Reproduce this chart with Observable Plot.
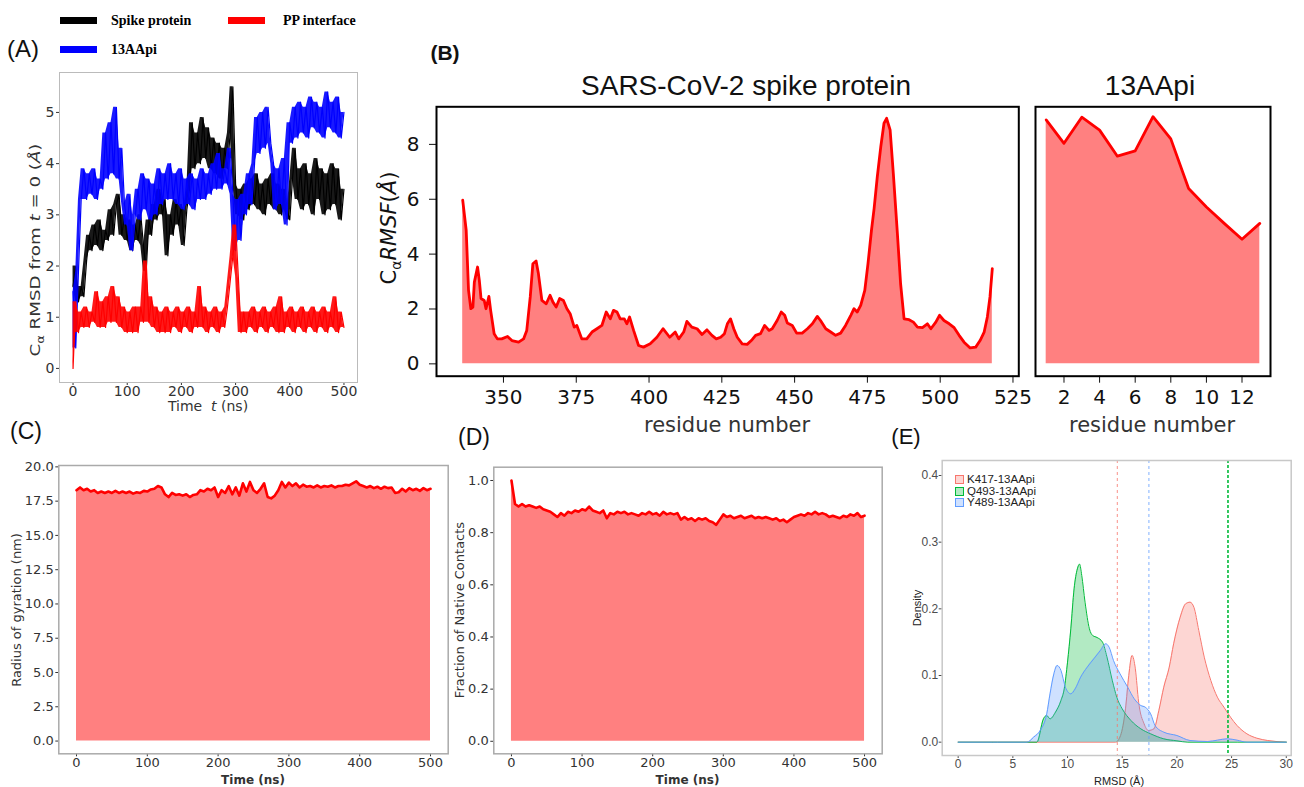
<!DOCTYPE html>
<html><head><meta charset="utf-8">
<script src="https://cdn.jsdelivr.net/npm/d3@7"></script>
<script src="https://cdn.jsdelivr.net/npm/@observablehq/plot@0.6"></script>
<style>
body{margin:0;background:#fff;overflow:hidden}
#root{position:relative;width:1304px;height:787px;background:#fff;overflow:hidden}
#root svg{position:absolute;left:0;top:0;background:transparent;overflow:visible}
.lbl{position:absolute;white-space:nowrap;transform:translate(-50%,-50%);line-height:1}
.lft{position:absolute;white-space:nowrap;transform:translate(0,-50%);line-height:1}
.bar{position:absolute}
</style></head><body><div id="root"></div><script>
// ---------------- DATA ----------------
// Panel A: RMSD (Å) sampled every 5 ns
const timeNs = d3.range(0, 501, 5);
const rmsdSpike = [
1.6,2.0,1.3,1.6,1.4,2.1,2.6,2.3,2.8,2.4,
2.9,2.3,2.7,2.5,3.1,2.6,3.2,3.4,2.6,3.0,
2.5,2.9,2.3,2.8,2.5,3.0,2.4,1.9,2.9,2.6,
3.2,2.9,3.5,3.0,3.3,2.2,3.0,2.6,3.3,2.8,
3.2,2.4,3.1,3.5,4.8,3.9,4.6,4.0,4.9,4.1,
4.7,3.9,4.5,3.8,4.4,3.7,4.3,3.9,4.6,5.5,
3.6,3.0,3.5,2.9,3.6,3.1,3.7,3.2,3.8,3.1,
3.6,3.0,3.7,3.2,3.8,3.1,3.6,3.0,3.5,3.1,
2.9,3.7,4.3,3.3,3.9,3.1,4.0,3.2,3.8,3.0,
4.1,3.3,3.9,3.0,3.8,3.1,4.0,3.2,3.9,2.9,
3.5];
const rmsdPeptide = [
1.5,0.4,1.9,3.3,3.9,3.3,3.8,3.4,3.9,3.3,
3.7,3.5,4.6,3.7,4.8,3.8,5.1,3.7,4.3,3.2,
2.8,3.4,2.3,3.0,3.5,2.9,3.8,3.1,3.7,2.9,
3.6,3.0,3.9,3.2,3.8,3.3,4.0,3.3,3.8,3.2,
3.9,3.1,3.7,3.2,3.8,3.1,3.7,3.3,3.9,3.3,
3.8,3.4,4.0,3.5,4.2,3.5,3.9,3.6,4.3,3.4,
2.3,3.3,2.5,3.4,3.0,3.8,3.2,4.0,4.9,4.2,
5.0,4.3,5.1,4.4,4.0,3.1,3.9,3.2,4.1,2.8,
4.8,4.4,5.1,4.5,5.2,4.6,5.1,4.5,5.3,4.7,
5.2,4.6,5.1,4.5,5.4,4.7,5.2,4.6,5.3,4.5,
5.0];
const rmsdInterface = [
0.0,1.3,0.7,1.1,0.8,1.2,0.8,1.1,0.9,1.5,
0.8,1.3,0.8,1.4,0.9,1.6,0.9,1.4,0.8,1.2,
0.7,1.1,0.7,1.2,0.7,1.2,0.9,2.1,0.9,1.4,
0.8,1.2,0.7,1.1,0.7,1.2,0.7,1.1,0.8,1.2,
0.7,1.1,0.8,1.2,0.7,1.1,0.8,1.6,0.8,1.2,
0.7,1.1,0.8,1.2,0.7,1.1,0.8,1.2,1.7,2.2,
2.8,1.8,0.7,1.1,0.7,1.1,0.8,1.2,0.7,1.1,
0.8,1.2,0.7,1.1,0.8,1.2,0.7,1.4,0.7,1.1,
0.8,1.2,0.7,1.1,0.8,1.2,0.7,1.1,0.8,1.2,
0.7,1.1,0.8,1.2,0.7,1.1,0.8,1.4,0.7,1.1,
0.8];
const seriesA = ["Spike protein", "13AApi", "PP interface"];
const colorsA = ["#000000", "#0000ff", "#ff0000"];

// Panel B: RMSF per residue
const residueSpike = [336.0,337.2,338.0,338.8,339.5,340.0,341.1,341.7,342.3,343.4,344.0,345.0,345.6,346.8,347.9,349.4,351.4,352.9,355.2,356.9,358.0,359.2,360.1,361.2,362.0,363.2,364.7,366.0,367.0,368.1,369.3,370.6,371.8,372.9,374.3,375.2,376.9,378.6,380.4,382.1,383.8,385.3,386.7,387.8,389.0,390.1,391.5,392.4,393.3,394.7,396.4,398.1,400.4,402.7,404.8,407.1,409.0,410.2,411.9,413.0,414.7,416.5,418.2,419.9,421.6,423.1,424.6,425.9,426.9,428.0,429.1,430.3,432.0,433.7,435.4,436.6,438.3,439.7,441.2,442.3,444.0,445.4,446.6,447.5,449.2,450.7,452.6,454.4,456.1,457.8,458.9,460.7,462.4,464.1,465.8,467.5,469.3,470.4,471.5,472.7,474.1,475.2,476.4,477.3,478.4,479.6,480.7,481.6,482.8,483.9,485.3,486.4,487.6,489.3,490.8,492.2,493.9,495.6,496.8,498.5,499.8,501.3,503.1,504.8,506.5,508.2,510.3,512.2,513.7,515.1,516.2,517.1,517.9];
const rmsfSpike = [5.97,4.87,2.68,2.01,2.07,2.98,3.53,3.05,2.38,2.31,2.01,2.46,1.95,1.10,0.91,0.91,1.00,0.85,0.79,0.91,1.22,2.44,3.65,3.75,3.29,2.31,2.19,2.50,2.25,2.07,2.38,2.31,2.01,1.83,1.34,1.40,0.91,0.91,1.16,1.28,1.40,1.89,1.64,1.95,1.89,1.64,1.64,1.46,1.71,1.22,0.67,0.61,0.73,0.97,1.28,0.97,1.16,0.91,1.16,1.55,1.34,1.28,1.07,1.24,1.04,0.91,0.97,1.10,1.46,1.64,1.28,0.97,0.73,0.71,0.88,1.04,1.10,1.40,1.22,1.28,1.58,1.89,1.77,1.49,1.40,1.12,1.12,1.28,1.46,1.73,1.58,1.28,1.16,1.04,1.12,1.40,1.77,2.01,1.89,2.13,2.68,3.65,4.87,5.66,6.82,7.92,8.77,8.95,8.53,6.94,4.75,2.92,1.64,1.61,1.52,1.34,1.32,1.46,1.28,1.52,1.77,1.58,1.46,1.32,1.04,0.79,0.58,0.61,0.85,1.16,1.71,2.44,3.47];
const residuePeptide = [1,2,3,4,5,6,7,8,9,10,11,12,13];
const rmsfPeptide = [8.89,8.04,8.99,8.52,7.57,7.76,9.01,8.2,6.39,5.72,5.12,4.54,5.12];

// Panel C: radius of gyration (nm), every 5 ns
const rgyr = [
18.3,18.5,18.3,18.4,18.2,18.3,18.1,18.2,18.1,18.2,
18.1,18.25,18.1,18.2,18.1,18.2,18.05,18.15,18.1,18.25,
18.2,18.35,18.4,18.6,18.5,18.0,17.8,18.1,17.95,18.0,
17.9,18.0,17.8,17.95,18.0,18.3,18.2,18.4,18.3,18.5,
17.8,18.3,18.1,18.6,18.0,18.5,17.9,18.8,18.2,18.9,
18.3,18.1,18.4,18.8,17.8,17.7,17.9,18.3,18.9,18.5,
18.85,18.6,18.8,18.5,18.7,18.55,18.6,18.5,18.65,18.5,
18.6,18.55,18.65,18.5,18.6,18.6,18.7,18.65,18.8,18.95,
18.7,18.6,18.5,18.6,18.45,18.55,18.4,18.55,18.45,18.5,
18.1,18.15,18.4,18.2,18.45,18.3,18.4,18.25,18.45,18.3,
18.4];
// Panel D: fraction of native contacts, every 5 ns
const nativeContacts = [
1.00,0.91,0.90,0.91,0.90,0.905,0.90,0.895,0.90,0.89,
0.885,0.88,0.87,0.86,0.875,0.865,0.88,0.875,0.885,0.88,
0.89,0.885,0.90,0.885,0.88,0.875,0.885,0.855,0.875,0.87,
0.88,0.875,0.88,0.87,0.875,0.87,0.865,0.875,0.87,0.88,
0.87,0.875,0.865,0.88,0.87,0.875,0.87,0.875,0.85,0.86,
0.85,0.855,0.845,0.855,0.85,0.855,0.845,0.84,0.83,0.85,
0.87,0.86,0.865,0.855,0.86,0.865,0.855,0.86,0.865,0.855,
0.86,0.855,0.86,0.855,0.85,0.855,0.845,0.85,0.84,0.85,
0.86,0.865,0.87,0.865,0.875,0.87,0.88,0.87,0.875,0.87,
0.86,0.865,0.86,0.855,0.865,0.86,0.87,0.865,0.875,0.86,
0.865];

// Panel E: RMSD density
const k417X = [0,14.4,14.85,15.3,15.6,15.9,16.2,16.5,17.0,17.4,17.9,18.35,18.8,19.3,19.7,20.3,20.8,21.2,21.55,22.0,22.5,23.1,23.7,24.3,24.9,25.5,26.4,27.3,28.3,30];
const k417Y = [0,0,0.01,0.05,0.1,0.13,0.11,0.06,0.0275,0.0175,0.02,0.0475,0.0825,0.1125,0.1475,0.1875,0.2075,0.21,0.2025,0.1675,0.1275,0.0925,0.0675,0.0525,0.0375,0.025,0.0125,0.006,0.0025,0];
const q493X = [0,7.2,7.8,8.1,8.4,8.9,9.4,9.7,10.0,10.3,10.6,10.9,11.1,11.3,11.6,12.0,12.3,12.7,13.2,13.6,14.1,14.5,15.0,15.8,16.7,17.6,18.8,20.0,21.0,30];
const q493Y = [0,0,0.035,0.04,0.035,0.045,0.0625,0.08,0.12,0.17,0.23,0.26,0.267,0.25,0.21,0.17,0.16,0.157,0.15,0.128,0.092,0.0675,0.05,0.0325,0.02,0.0125,0.005,0.002,0,0];
const y489X = [0,6.3,6.9,7.5,8.1,8.4,8.75,9.05,9.4,9.8,10.3,10.7,11.2,11.8,12.4,13.0,13.5,13.8,14.2,14.8,15.5,16.1,16.7,17.1,17.6,18.0,18.8,20.0,21.2,22.8,23.7,24.6,25.5,26.4,30];
const y489Y = [0,0,0.0075,0.0175,0.0425,0.0725,0.1025,0.115,0.1075,0.0825,0.0725,0.08,0.0975,0.1125,0.125,0.1375,0.1475,0.1425,0.1225,0.1025,0.0825,0.065,0.055,0.0525,0.0425,0.025,0.015,0.01,0.0025,0.001,0.003,0.005,0.003,0,0];
const seriesE = ["K417-13AApi", "Q493-13AApi", "Y489-13AApi"];
const colorsE = ["#F8766D", "#00BA38", "#619CFF"];
const meanLinesE = [14.55, 24.67, 17.44];

// ---------------- DRAW ----------------
const W = 1304, H = 787;
const root = document.getElementById("root");
function panel(f, opts) {
  const svg = Plot.plot(Object.assign({
    width: W, height: H,
    marginLeft: f.l, marginRight: W - f.r, marginTop: f.t, marginBottom: H - f.b
  }, opts));
  root.appendChild(svg);
}
function label(html, x, y, css, rot, cls) {
  const d = document.createElement("div");
  d.className = cls || "lbl";
  d.innerHTML = html;
  d.style.left = x + "px"; d.style.top = y + "px";
  if (css) d.style.cssText += css;
  if (rot) d.style.transform = "translate(-50%,-50%) rotate(-90deg)" + (rot === true ? "" : " " + rot);
  root.appendChild(d);
}
function bar(x, y, w, h, c) {
  const d = document.createElement("div");
  d.className = "bar";
  d.style.cssText = `left:${x}px;top:${y}px;width:${w}px;height:${h}px;background:${c}`;
  root.appendChild(d);
}

// Panel A
const toSeries = arr => timeNs.map((t, i) => ({t, v: arr[i]}));
// local envelope of each noisy trace (min/max of neighbouring samples)
const envelope = arr => timeNs.map((t, i) => {
  const w = arr.slice(i, Math.min(arr.length, i + 2));
  return {t, lo: d3.min(w), hi: d3.max(w)};
});
const arrsA = [rmsdSpike, rmsdPeptide, rmsdInterface];
const marksA = [];
arrsA.forEach((a, i) => {
  marksA.push(Plot.areaY(envelope(a), {x: "t", y1: "lo", y2: "hi", fill: colorsA[i], fillOpacity: 0.9}));
  marksA.push(Plot.lineY(toSeries(a), {x: "t", y: "v", stroke: colorsA[i], strokeWidth: 1.2}));
});
marksA.push(Plot.frame({stroke: "#bbb"}));
panel({l: 59, r: 357, t: 72, b: 382}, {
  style: {fontFamily: "DejaVu Sans", fontSize: "14px", color: "#333", background: "transparent"},
  x: {domain: [-25, 525], ticks: [0, 100, 200, 300, 400, 500], tickSize: 3, tickPadding: 1, label: null},
  y: {domain: [-0.275, 5.78], ticks: [0, 1, 2, 3, 4, 5], tickFormat: d => String(d), tickSize: 3, tickPadding: 2, label: null},
  marks: marksA
});
// legend A
const serif = "font-family:'Liberation Serif';font-weight:bold;font-size:14px;color:#000;";
bar(60, 17, 37, 7, colorsA[0]); label(seriesA[0], 111, 21, serif, false, "lft");
bar(228, 17, 37, 7, colorsA[2]); label(seriesA[2], 283, 21, serif, false, "lft");
bar(60, 46, 37, 7, colorsA[1]); label(seriesA[1], 111, 50, serif, false, "lft");
label("(A)", 23, 49, "font-family:'Liberation Sans';font-size:24px;color:#111;");
label("C<sub style='font-size:10px'>α</sub> RMSD from <i>t</i> = 0 (<i>Å</i>)", 37, 250,
  "font-family:'DejaVu Sans';font-size:14px;color:#333;", "scaleX(1.3)");
label("Time&nbsp; <i>t</i> (ns)", 208, 406, "font-family:'DejaVu Sans';font-size:14px;color:#333;");

// Panel B left
const bY = {domain: [-0.45, 9.37], ticks: [0, 2, 4, 6, 8], tickSize: 7, tickPadding: 10, label: null};
const spikeData = residueSpike.map((r, i) => ({r, v: rmsfSpike[i]}));
panel({l: 436, r: 1018.3, t: 106.3, b: 375.7}, {
  style: {fontFamily: "DejaVu Sans", fontSize: "20px", color: "#111", background: "transparent"},
  x: {domain: [327, 527], ticks: [350, 375, 400, 425, 450, 475, 500, 525], tickSize: 7, tickPadding: 7, label: null},
  y: bY,
  marks: [
    Plot.areaY(spikeData, {x: "r", y: "v", fill: "#ff8080"}),
    Plot.lineY(spikeData, {x: "r", y: "v", stroke: "#ff0000", strokeWidth: 2.8, strokeLinejoin: "round"}),
    Plot.frame({stroke: "#000", strokeWidth: 2})
  ]
});
// Panel B right
const pepData = residuePeptide.map((r, i) => ({r, v: rmsfPeptide[i]}));
panel({l: 1035, r: 1270, t: 106.3, b: 375.7}, {
  style: {fontFamily: "DejaVu Sans", fontSize: "20px", color: "#111", background: "transparent"},
  x: {domain: [0.4, 13.6], ticks: [2, 4, 6, 8, 10, 12], tickSize: 7, tickPadding: 7, label: null},
  y: Object.assign({}, bY, {axis: null}),
  marks: [
    Plot.areaY(pepData, {x: "r", y: "v", fill: "#ff8080"}),
    Plot.lineY(pepData, {x: "r", y: "v", stroke: "#ff0000", strokeWidth: 2.8, strokeLinejoin: "round"}),
    Plot.frame({stroke: "#000", strokeWidth: 2})
  ]
});
label("(B)", 445, 52, "font-family:'Liberation Sans';font-weight:bold;font-size:21px;color:#111;");
label("SARS-CoV-2 spike protein", 746, 86, "font-family:'Liberation Sans';font-size:28px;color:#111;");
label("13AApi", 1150, 86, "font-family:'Liberation Sans';font-size:28px;color:#111;");
label("C<sub style='font-size:14px'>α</sub><i>RMSF</i>(<i>Å</i>)", 391, 228, "font-family:'DejaVu Sans';font-size:21px;color:#111;", true);
label("residue number", 727, 425, "font-family:'DejaVu Sans';font-size:21px;color:#333;");
label("residue number", 1152, 425, "font-family:'DejaVu Sans';font-size:21px;color:#333;");

// Panel C
const mplStyle = {fontFamily: "DejaVu Sans", fontSize: "13px", color: "#333", background: "transparent"};
const timeX = {domain: [-25, 525], ticks: [0, 100, 200, 300, 400, 500], tickSize: 3, tickPadding: 1, label: null};
panel({l: 58.3, r: 447.7, t: 465, b: 753.3}, {
  style: mplStyle,
  x: timeX,
  y: {domain: [-0.93, 20.1], ticks: [0, 2.5, 5, 7.5, 10, 12.5, 15, 17.5, 20], tickFormat: d => d.toFixed(1), tickSize: 3, tickPadding: 2, label: null},
  marks: [
    Plot.areaY(toSeries(rgyr), {x: "t", y: "v", fill: "#ff8080"}),
    Plot.lineY(toSeries(rgyr), {x: "t", y: "v", stroke: "#ff0000", strokeWidth: 2.6}),
    Plot.frame({stroke: "#aaa", strokeWidth: 1.5})
  ]
});
label("(C)", 26, 431, "font-family:'Liberation Sans';font-size:23px;color:#111;");
label("Radius of gyration (nm)", 16, 610, "font-family:'DejaVu Sans';font-size:13px;color:#333;", true);
label("Time (ns)", 253, 780, "font-family:'DejaVu Sans';font-weight:bold;font-size:12px;color:#333;");

// Panel D
panel({l: 493.3, r: 881.7, t: 466.7, b: 753.3}, {
  style: mplStyle,
  x: timeX,
  y: {domain: [-0.048, 1.051], ticks: [0, 0.2, 0.4, 0.6, 0.8, 1.0], tickFormat: d => d.toFixed(1), tickSize: 3, tickPadding: 2, label: null},
  marks: [
    Plot.areaY(toSeries(nativeContacts), {x: "t", y: "v", fill: "#ff8080"}),
    Plot.lineY(toSeries(nativeContacts), {x: "t", y: "v", stroke: "#ff0000", strokeWidth: 2.6}),
    Plot.frame({stroke: "#aaa", strokeWidth: 1.5})
  ]
});
label("(D)", 474, 437, "font-family:'Liberation Sans';font-size:23px;color:#111;");
label("Fraction of Native Contacts", 459, 610, "font-family:'DejaVu Sans';font-size:13px;color:#333;", true);
label("Time (ns)", 687.5, 780, "font-family:'DejaVu Sans';font-weight:bold;font-size:12px;color:#333;");

// Panel E
const eXs = [k417X, q493X, y489X], eYs = [k417Y, q493Y, y489Y];
const eMarks = [];
eXs.forEach((xs, i) => {
  const data = xs.map((x, j) => ({x, y: eYs[i][j]}));
  eMarks.push(Plot.areaY(data, {x: "x", y: "y", fill: colorsE[i], fillOpacity: 0.3, curve: "monotone-x"}));
  eMarks.push(Plot.lineY(data, {x: "x", y: "y", stroke: colorsE[i], strokeWidth: 1, curve: "monotone-x"}));
});
meanLinesE.forEach((m, i) => eMarks.push(Plot.ruleX([m], {stroke: colorsE[i], strokeWidth: i === 1 ? 1.6 : 1, strokeDasharray: i === 1 ? "3,2" : "3,3", strokeOpacity: i === 1 ? 1 : 0.8})));
eMarks.push(Plot.frame({stroke: "#c8c8c8", strokeWidth: 1.5}));
panel({l: 941.7, r: 1290.7, t: 460, b: 755}, {
  style: {fontFamily: "Liberation Sans", fontSize: "12px", color: "#4d4d4d", background: "transparent"},
  x: {domain: [-1.46, 30.45], ticks: [0, 5, 10, 15, 20, 25, 30], tickSize: 3, tickPadding: 1, label: null},
  y: {domain: [-0.02, 0.4225], ticks: [0, 0.1, 0.2, 0.3, 0.4], tickFormat: d => d.toFixed(1), tickSize: 3, tickPadding: 1, label: null},
  marks: eMarks
});
label("(E)", 906, 437, "font-family:'Liberation Sans';font-size:22px;color:#111;");
label("Density", 917, 608, "font-family:'Liberation Sans';font-size:11px;color:#222;", true);
label("RMSD (Å)", 1119, 781, "font-family:'Liberation Sans';font-size:11px;color:#222;");
// legend E
const legRows = [480, 491.5, 503];
seriesE.forEach((s, i) => {
  const d = document.createElement("div");
  d.className = "bar";
  d.style.cssText = `left:955px;top:${legRows[i] - 5}px;width:9px;height:9px;background:${d3.color(colorsE[i]).copy({opacity: 0.3})};border:1px solid ${colorsE[i]};box-sizing:border-box`;
  root.appendChild(d);
  label(s, 967, legRows[i], "font-family:'Liberation Sans';font-size:11.5px;color:#222;", false, "lft");
});
</script></body></html>
